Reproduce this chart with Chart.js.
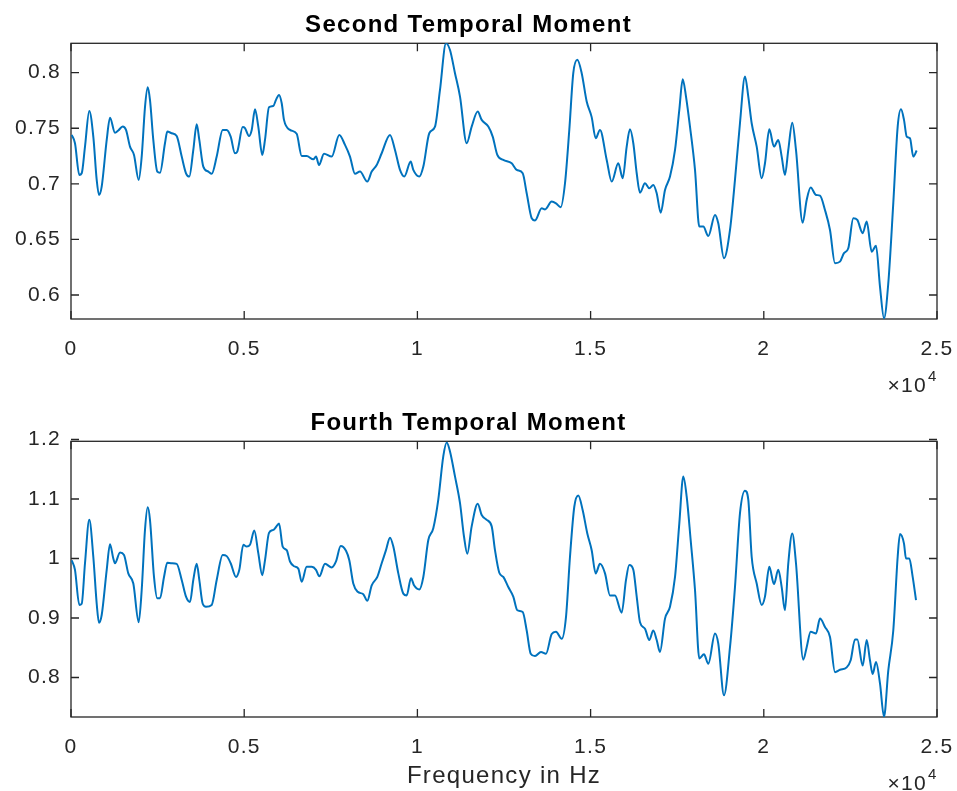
<!DOCTYPE html>
<html>
<head>
<meta charset="utf-8">
<script src="https://cdn.jsdelivr.net/npm/chart.js@4.4.1/dist/chart.umd.min.js"></script>
<style>
    body { margin: 0; background: #fff; }
    canvas { position: absolute; left: 0; }
</style>
</head>
<body>
<canvas id="second" width="957" height="398" style="top:0px"></canvas>
<canvas id="fourth" width="957" height="393" style="top:398px"></canvas>
<script>
// traced samples of the second temporal moment (x in Hz)
const secondFreq = [20,115,240,309,404,528,644,742,808,886,1031,1126,1270,1365,1492,1588,1703,1819,1954,2041,
    2136,2214,2280,2376,2491,2569,2713,2780,2907,3051,3196,3320,3415,3531,3629,3704,3819,3964,4062,4206,
    4379,4495,4610,4734,4801,4957,5023,5138,5217,5312,5407,5522,5600,5716,5840,5918,6005,6083,6149,6322,
    6515,6660,6804,6995,7073,7159,7304,7526,7745,7910,8054,8199,8343,8554,8681,8825,8969,9209,9353,9498,
    9622,9807,9882,10055,10171,10343,10508,10652,10826,10941,11085,11230,11423,11567,11741,11856,12047,12174,12307,12480,
    12722,12867,13040,13155,13300,13395,13588,13684,13877,14001,14137,14261,14385,14500,14616,14743,14887,15031,15147,15271,
    15465,15609,15799,15927,16042,16137,16233,16331,16426,16570,16694,16810,16908,17024,17148,17292,17437,17561,17659,17754,
    17869,18014,18138,18253,18398,18591,18686,18851,19024,19168,19312,19457,19552,19650,19795,19939,20034,20158,20294,20418,
    20516,20611,20707,20822,20929,21122,21238,21353,21507,21622,21766,21911,22055,22199,22315,22439,22584,22699,22855,22970,
    23115,23239,23354,23470,23594,23738,23865,23960,24047,24125,24220,24315,24413];
const secondMoment = [0.744,0.7365,0.708,0.7095,0.7335,0.7656,0.7425,0.7035,0.690,0.6975,0.7395,0.7595,0.746,0.748,0.7515,0.7485,0.7335,0.726,0.7035,0.7245,
    0.769,0.7869,0.7755,0.7395,0.711,0.710,0.7365,0.747,0.7455,0.743,0.7245,0.7095,0.7065,0.7305,0.7536,0.7395,0.7155,0.711,0.709,0.7245,
    0.7485,0.7485,0.7425,0.7275,0.729,0.751,0.750,0.743,0.7485,0.767,0.7515,0.726,0.7395,0.7689,0.770,0.7755,0.780,0.7725,0.7575,0.7485,
    0.745,0.725,0.725,0.722,0.7245,0.717,0.727,0.7245,0.744,0.735,0.7245,0.709,0.711,0.702,0.711,0.717,0.7275,0.744,0.7305,0.7125,
    0.7065,0.720,0.7125,0.7065,0.7155,0.7455,0.7515,0.7845,0.8264,0.8204,0.7995,0.7785,0.7365,0.7515,0.765,0.7575,0.7515,0.7425,0.726,0.7215,
    0.7185,0.7125,0.7095,0.6915,0.669,0.667,0.678,0.677,0.684,0.6825,0.679,0.7005,0.7485,0.7995,0.8115,0.7995,0.774,0.760,0.741,0.7485,
    0.7215,0.702,0.7185,0.705,0.7335,0.749,0.7365,0.7095,0.692,0.7005,0.696,0.699,0.6915,0.674,0.6945,0.7065,0.7305,0.7665,0.794,0.7785,
    0.7515,0.7125,0.6615,0.6615,0.653,0.672,0.6645,0.633,0.6585,0.7035,0.7545,0.7965,0.7785,0.7545,0.7335,0.705,0.7185,0.749,0.7335,0.7395,
    0.7245,0.708,0.7305,0.755,0.7305,0.665,0.6855,0.6966,0.690,0.6894,0.6765,0.6585,0.6286,0.630,0.6376,0.642,0.669,0.6675,0.6556,0.666,
    0.639,0.6442,0.6076,0.5791,0.6106,0.6826,0.7515,0.767,0.7575,0.7425,0.741,0.7245,0.7299];

// traced samples of the fourth temporal moment (x in Hz)
const fourthFreq = [20,115,240,309,404,528,644,742,808,886,1031,1126,1221,1270,1415,1530,1654,1799,1954,2041,
    2136,2214,2280,2396,2491,2569,2685,2780,2907,3051,3196,3320,3435,3531,3629,3704,3802,3897,4062,4206,
    4379,4495,4610,4763,4859,4974,5072,5167,5292,5407,5522,5600,5716,5840,5918,6005,6111,6227,6322,6438,
    6562,6660,6804,6949,7073,7168,7333,7526,7650,7786,7939,8034,8149,8276,8438,8554,8681,8843,8969,9093,
    9209,9305,9449,9593,9691,9815,9902,10055,10171,10315,10459,10603,10748,10846,10941,11085,11230,11345,11440,11567,
    11741,11856,12000,12145,12240,12364,12480,12624,12768,12884,13040,13155,13271,13395,13568,13712,13877,14001,14166,14290,
    14405,14529,14645,14772,14905,15031,15147,15271,15416,15560,15704,15897,16022,16117,16233,16331,16426,16570,16694,16810,
    16908,17003,17148,17292,17437,17561,17676,17774,17889,18014,18138,18273,18398,18591,18686,18851,19024,19168,19312,19457,
    19552,19650,19795,19939,20034,20158,20294,20418,20516,20611,20707,20822,20929,21140,21238,21353,21507,21622,21766,21911,
    22055,22199,22393,22508,22632,22699,22855,22970,23065,23143,23239,23354,23470,23594,23738,23865,23932,24047,24105,24200,
    24298,24394];
const fourthMoment = [0.997,0.981,0.922,0.924,0.992,1.065,1.003,0.924,0.892,0.905,0.981,1.024,1.000,0.992,1.010,1.006,0.975,0.958,0.893,0.947,
    1.048,1.086,1.065,0.969,0.933,0.933,0.969,0.993,0.992,0.991,0.964,0.936,0.927,0.964,0.991,0.964,0.924,0.919,0.922,0.964,
    1.006,1.004,0.992,0.969,0.981,1.023,1.020,1.023,1.047,1.009,0.972,0.997,1.043,1.048,1.053,1.059,1.020,1.014,0.995,0.987,
    0.983,0.961,0.986,0.986,0.981,0.970,0.991,0.985,0.995,1.021,1.013,0.997,0.958,0.944,0.940,0.929,0.955,0.969,0.992,1.014,
    1.035,1.020,0.975,0.941,0.938,0.967,0.955,0.948,0.969,1.031,1.051,1.099,1.172,1.195,1.180,1.138,1.093,1.037,1.008,1.054,
    1.092,1.073,1.065,1.054,1.014,0.976,0.969,0.952,0.936,0.913,0.910,0.879,0.840,0.836,0.843,0.840,0.873,0.877,0.865,0.902,
    1.003,1.087,1.106,1.081,1.042,1.014,0.975,0.991,0.975,0.938,0.938,0.909,0.964,0.989,0.981,0.936,0.893,0.882,0.863,0.879,
    0.863,0.843,0.899,0.919,0.969,1.059,1.138,1.104,1.031,0.947,0.832,0.839,0.823,0.874,0.857,0.770,0.851,0.952,1.076,1.114,
    1.099,1.003,0.958,0.922,0.936,0.986,0.957,0.981,0.952,0.913,0.992,1.042,0.992,0.830,0.851,0.877,0.874,0.899,0.885,0.868,
    0.809,0.813,0.817,0.829,0.864,0.864,0.820,0.863,0.829,0.806,0.826,0.790,0.734,0.812,0.879,1.003,1.041,1.025,1.000,1.000,
    0.969,0.930];

// axis ticks and limits
const xTicks = [0, 5000, 10000, 15000, 20000, 25000];
const secondYTicks = [0.6, 0.65, 0.7, 0.75, 0.8];
const fourthYTicks = [0.8, 0.9, 1.0, 1.1, 1.2];
const secondLimits = [0.5784, 0.8264];
const fourthLimits = [0.7336, 1.197];

const FONT = '"Liberation Sans", Arial, Helvetica, sans-serif';
const AXIS_COLOR = '#262626';

// draws the matlab style box, inward ticks and the x10^4 exponent
const matlab_frame = {
    id: 'matlab_frame',
    beforeDraw(chart) {
        // the reference text is spaced a bit wider than plain arial
        chart.ctx.letterSpacing = '1.3px';
    },
    beforeDatasetsDraw(chart) {
        const { ctx, chartArea: a, scales } = chart;
        ctx.save();
        ctx.strokeStyle = AXIS_COLOR;
        ctx.lineWidth = 1.3;
        ctx.strokeRect(a.left, a.top, a.right - a.left, a.bottom - a.top);
        ctx.beginPath();
        for (const t of scales.x.ticks) {
            const px = scales.x.getPixelForValue(t.value);
            ctx.moveTo(px, a.bottom); ctx.lineTo(px, a.bottom - 8);
            ctx.moveTo(px, a.top); ctx.lineTo(px, a.top + 8);
        }
        for (const t of scales.y.ticks) {
            const py = scales.y.getPixelForValue(t.value);
            ctx.moveTo(a.left, py); ctx.lineTo(a.left + 8, py);
            ctx.moveTo(a.right, py); ctx.lineTo(a.right - 8, py);
        }
        ctx.stroke();
        ctx.restore();
    },
    afterDraw(chart) {
        const { ctx, chartArea: a } = chart;
        const base = a.bottom + 72.7;
        ctx.save();
        ctx.fillStyle = AXIS_COLOR;
        ctx.textBaseline = 'alphabetic';
        ctx.font = '21px ' + FONT;
        ctx.textAlign = 'right';
        ctx.fillText('\u00d710', a.right - 10, base);
        ctx.font = '15px ' + FONT;
        ctx.textAlign = 'left';
        ctx.fillText('4', a.right - 9, base - 11);
        ctx.restore();
    }
};

// one subplot
function make_chart(id, freq, values, title, limits, yTicks, canvasHeight, xTitle) {
    const points = freq.map((f, i) => ({ x: f, y: values[i] }));
    return new Chart(document.getElementById(id), {
        type: 'line',
        data: {
            datasets: [{
                data: points,
                borderColor: '#0072BD',
                borderWidth: 2,
                pointRadius: 0,
                cubicInterpolationMode: 'monotone',
                fill: false
            }]
        },
        options: {
            responsive: false,
            animation: false,
            devicePixelRatio: 1,
            layout: { padding: { left: 0, right: 20, top: 0, bottom: 0 } },
            plugins: {
                legend: { display: false },
                tooltip: { enabled: false },
                title: {
                    display: true,
                    text: title,
                    color: '#000',
                    font: { family: FONT, size: 24, weight: 'bold' },
                    padding: { top: 10.9, bottom: 3.6 }
                }
            },
            scales: {
                x: {
                    type: 'linear',
                    min: 0,
                    max: 25000,
                    grid: { display: false },
                    border: { display: false },
                    afterBuildTicks: (scale) => { scale.ticks = xTicks.map(v => ({ value: v })); },
                    afterFit: (scale) => {
                        scale.height = canvasHeight - 319;
                        scale.paddingLeft = 0;
                        scale.paddingRight = 0;
                    },
                    ticks: {
                        color: AXIS_COLOR,
                        font: { family: FONT, size: 21 },
                        padding: 10,
                        maxRotation: 0,
                        autoSkip: false,
                        callback: (v) => String(v / 10000)
                    },
                    title: {
                        display: !!xTitle,
                        text: xTitle || '',
                        color: AXIS_COLOR,
                        font: { family: FONT, size: 24 },
                        padding: { top: 0, bottom: 0 }
                    }
                },
                y: {
                    type: 'linear',
                    min: limits[0],
                    max: limits[1],
                    grid: { display: false },
                    border: { display: false },
                    afterBuildTicks: (scale) => { scale.ticks = yTicks.map(v => ({ value: v })); },
                    afterFit: (scale) => {
                        scale.width = 71;
                        scale.paddingTop = 0;
                        scale.paddingBottom = 0;
                    },
                    ticks: {
                        color: AXIS_COLOR,
                        font: { family: FONT, size: 21 },
                        padding: 2,
                        callback: (v) => String(v)
                    }
                }
            }
        },
        plugins: [matlab_frame]
    });
}

make_chart('second', secondFreq, secondMoment, 'Second Temporal Moment', secondLimits, secondYTicks, 398, null);
make_chart('fourth', fourthFreq, fourthMoment, 'Fourth Temporal Moment', fourthLimits, fourthYTicks, 393, 'Frequency in Hz');
</script>
</body>
</html>
